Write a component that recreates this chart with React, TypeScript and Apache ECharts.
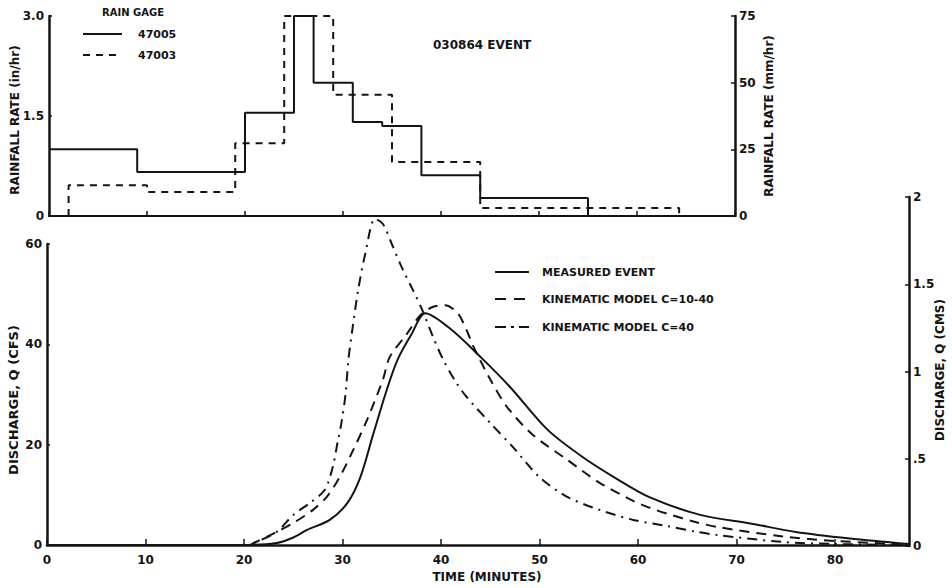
import React, { useEffect, useRef } from "react";
import * as echarts from "echarts";

// ---------- Data ----------
// Rainfall (in/hr), step data: value holds from time[i] to time[i+1]
const gage47005Time = [0, 9, 20, 25, 27, 31, 34, 38, 44, 55, 70];
const gage47005Rate = [1.0, 0.66, 1.55, 3.0, 2.0, 1.41, 1.35, 0.61, 0.27, 0, 0];
const gage47003Time = [2, 2, 10, 19, 24, 29, 35, 44, 64.3];
const gage47003Rate = [0, 0.46, 0.36, 1.09, 3.0, 1.82, 0.81, 0.12, 0];

// Discharge (cfs)
const measuredTime = [0, 20, 23.3, 25, 26.4, 28.7, 30.5, 31.8, 33.1, 34.5, 35.6, 37, 38.4, 41, 44, 47, 50.8, 54.4, 58, 61.2, 66.3, 71.4, 76, 81.5, 87.5];
const measuredQ = [0, 0, 0.4, 1.5, 3, 5, 8.4, 13.5, 22, 31, 37, 42, 46.2, 43, 37.5, 31.5, 23, 17.5, 13, 9.5, 6, 4.3, 2.6, 1.3, 0.2];

const k1040Time = [0, 20.5, 21, 23.3, 25, 27, 28.4, 29.7, 31.1, 32.5, 34.1, 34.8, 36.5, 37.9, 39.2, 40.4, 41.7, 42.6, 43.3, 45, 46.7, 49.3, 52.8, 56.1, 59.5, 61.2, 63, 66, 68, 74.7, 80, 87.5];
const k1040Q = [0, 0, 0.4, 2.6, 4.4, 7, 9.6, 13.5, 19, 25, 33, 37.5, 42, 45.8, 47.5, 47.8, 46.2, 42.8, 39.5, 33, 27.5, 22, 17, 12.4, 8.8, 7.4, 6.2, 4.5, 3.6, 1.7, 0.8, 0.1];

const k40Time = [0, 20.5, 21, 23.3, 25, 26.7, 28.2, 29, 29.5, 29.9, 30.3, 30.6, 31, 31.6, 32.3, 33.3, 34.1, 35, 36, 37.1, 38.1, 39.2, 40.2, 41.5, 42.6, 45, 47.3, 50, 52.8, 56.1, 59.5, 62.9, 66, 68, 74.7, 80, 87.5];
const k40Q = [0, 0, 0.4, 2.6, 6, 8.4, 11, 15.5, 20.5, 24.5, 30, 37, 43, 51, 58, 65, 64, 60, 55.4, 51, 46.8, 41.4, 37, 32.5, 29.5, 24.3, 19.5, 13.5, 9.6, 7, 5, 3.8, 2.6, 2, 0.6, 0.2, 0];

// Tick labels
const rainInLabels = ["0", "1.5", "3.0"];
const cmsLabels = ["0", ".5", "1", "1.5", "2"];

// Texts
const eventTitle = "030864 EVENT";
const timeTitle = "TIME (MINUTES)";
const rainInTitle = "RAINFALL RATE (in/hr)";
const rainMmTitle = "RAINFALL RATE (mm/hr)";
const cfsTitle = "DISCHARGE, Q (CFS)";
const cmsTitle = "DISCHARGE, Q (CMS)";
const rainLegendTitle = "RAIN GAGE";
const rainLegendNames = ["47005", "47003"];
const qLegendNames = ["MEASURED EVENT", "KINEMATIC MODEL C=10-40", "KINEMATIC MODEL C=40"];

const pairs = (t: number[], v: number[]) => t.map((x, i) => [x, v[i]]);

const INK = "#141414";
const FONT = "DejaVu Sans";

export default function App() {
  const ref = useRef<HTMLDivElement>(null);
  useEffect(() => {
    if (!ref.current) return;
    const chart = echarts.init(ref.current, null, { renderer: "svg" });
    const lbl = { color: INK, fontFamily: FONT, fontWeight: "bold" as const, fontSize: 12 };
    const axLine = { show: true, onZero: false, lineStyle: { color: INK, width: 2.5 } };
    const tick = { show: true, inside: true, length: 5, lineStyle: { color: INK, width: 1.5 } };

    const txt = (text: string, x: number, y: number, size: number, align = "left", rotation = 0) => ({
      type: "text",
      x,
      y,
      rotation,
      style: {
        text,
        fill: INK,
        fontFamily: FONT,
        fontWeight: "bold",
        fontSize: size,
        verticalAlign: "middle",
        align,
      },
    });
    const ln = (x1: number, x2: number, y: number, dash?: number[]) => ({
      type: "line",
      shape: { x1, y1: y, x2, y2: y },
      style: { stroke: INK, lineWidth: 2, lineDash: dash || null },
    });
    const UP = Math.PI / 2;

    chart.setOption({
      animation: false,
      backgroundColor: "#ffffff",
      grid: [
        { left: 49, width: 686, top: 16, height: 200, outerBoundsMode: "none", containLabel: false },
        { left: 47, width: 862, top: 244, height: 301, outerBoundsMode: "none", containLabel: false },
        { left: 47, width: 862, top: 197, height: 349, outerBoundsMode: "none", containLabel: false },
      ],
      xAxis: [
        {
          gridIndex: 0, type: "value", min: 0, max: 70, interval: 10,
          axisLine: { show: true, onZero: false, lineStyle: { color: INK, width: 2 } },
          axisTick: tick, axisLabel: { show: false }, splitLine: { show: false },
        },
        {
          gridIndex: 1, type: "value", min: 0, max: 87.5, interval: 10,
          axisLine: axLine, axisTick: { ...tick, length: 6 },
          axisLabel: { ...lbl, margin: 9, showMaxLabel: false },
          splitLine: { show: false },
        },
        {
          gridIndex: 2, type: "value", min: 0, max: 87.5, show: false,
        },
      ],
      yAxis: [
        {
          gridIndex: 0, type: "value", min: 0, max: 3, interval: 1.5, position: "left",
          axisLine: axLine, axisTick: { ...tick, length: 3 },
          axisLabel: { ...lbl, margin: 5, formatter: (v: number) => rainInLabels[Math.round(v / 1.5)] },
          splitLine: { show: false },
        },
        {
          gridIndex: 0, type: "value", min: 0, max: 75, interval: 25, position: "right",
          axisLine: axLine, axisTick: { ...tick, length: 4 },
          axisLabel: { ...lbl, margin: 4 },
          splitLine: { show: false },
        },
        {
          gridIndex: 1, type: "value", min: 0, max: 60, interval: 20, position: "left",
          axisLine: axLine, axisTick: { ...tick, length: 3 },
          axisLabel: { ...lbl, margin: 5 },
          splitLine: { show: false },
        },
        {
          gridIndex: 2, type: "value", min: 0, max: 2, interval: 0.5, position: "right",
          axisLine: axLine, axisTick: { ...tick, length: 4 },
          axisLabel: { ...lbl, margin: 4, formatter: (v: number) => cmsLabels[Math.round(v / 0.5)] },
          splitLine: { show: false },
        },
      ],
      series: [
        {
          name: rainLegendNames[0], type: "line", xAxisIndex: 0, yAxisIndex: 0, step: "end",
          data: pairs(gage47005Time, gage47005Rate), symbol: "none",
          lineStyle: { color: INK, width: 2 },
        },
        {
          name: rainLegendNames[1], type: "line", xAxisIndex: 0, yAxisIndex: 0, step: "end",
          data: pairs(gage47003Time, gage47003Rate), symbol: "none",
          lineStyle: { color: INK, width: 2, type: [7, 6] },
        },
        {
          name: qLegendNames[0], type: "line", xAxisIndex: 1, yAxisIndex: 2, smooth: 0.3, clip: false,
          data: pairs(measuredTime, measuredQ), symbol: "none",
          lineStyle: { color: INK, width: 2 },
        },
        {
          name: qLegendNames[1], type: "line", xAxisIndex: 1, yAxisIndex: 2, smooth: 0.3, clip: false,
          data: pairs(k1040Time, k1040Q), symbol: "none",
          lineStyle: { color: INK, width: 2, type: [10, 7] },
        },
        {
          name: qLegendNames[2], type: "line", xAxisIndex: 1, yAxisIndex: 2, smooth: 0.3, clip: false,
          data: pairs(k40Time, k40Q), symbol: "none",
          lineStyle: { color: INK, width: 2, type: [10, 6, 2, 6] },
        },
        {
          type: "line", xAxisIndex: 2, yAxisIndex: 3, data: [], symbol: "none",
        },
      ],
      graphic: [
        txt(rainLegendTitle, 102, 12, 10),
        ln(83, 122, 34),
        txt(rainLegendNames[0], 138, 34, 11),
        ln(83, 122, 55, [7, 6]),
        txt(rainLegendNames[1], 138, 55, 11),
        txt(eventTitle, 433, 45, 12),
        ln(495, 529, 272),
        txt(qLegendNames[0], 542, 272, 11),
        ln(495, 529, 299, [11, 8]),
        txt(qLegendNames[1], 542, 299, 11),
        ln(495, 529, 327, [11, 5, 3, 5]),
        txt(qLegendNames[2], 542, 327, 11),
        txt(timeTitle, 487, 577, 12, "center"),
        txt(rainInTitle, 15, 120, 12, "center", UP),
        txt(rainMmTitle, 769, 116, 12, "center", UP),
        txt(cfsTitle, 13, 400, 13, "center", UP),
        txt(cmsTitle, 940, 370, 12, "center", UP),
      ],
    });
    return () => chart.dispose();
  }, []);
  return (
    <div
      ref={ref}
      style={{ position: "fixed", left: 0, top: 0, width: 952, height: 588, background: "#fff" }}
    />
  );
}
